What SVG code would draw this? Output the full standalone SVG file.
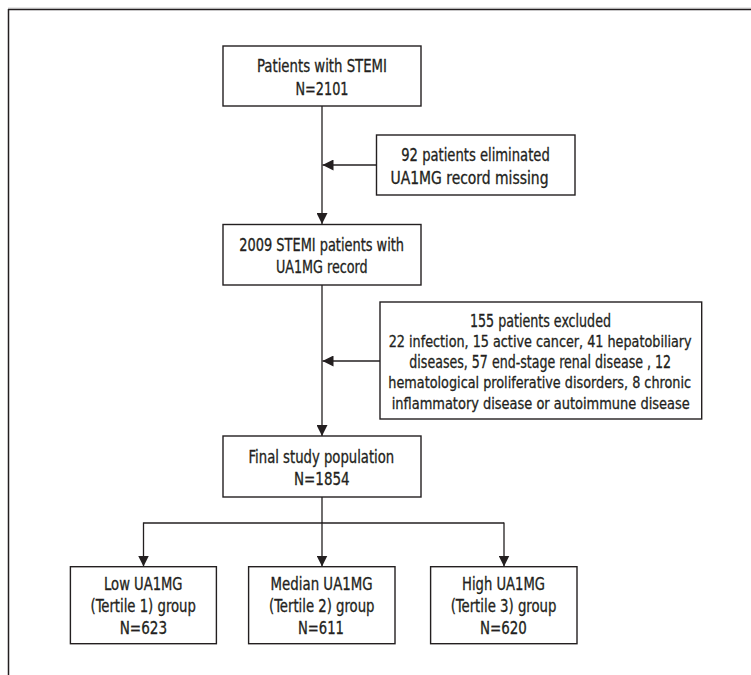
<svg xmlns="http://www.w3.org/2000/svg" width="751" height="675" viewBox="0 0 751 675">
<defs>
<style>
.box{fill:#fff;stroke:#231f20;stroke-width:1.4}
.ln{fill:none;stroke:#231f20;stroke-width:1.3}
text{font-family:"Liberation Sans Narrow","DejaVu Sans Condensed","Liberation Sans",sans-serif;font-size:17px;fill:#231f20;stroke:#231f20;stroke-width:0.3;text-anchor:middle}
.sm{font-size:16px}
</style>
<marker id="ah" viewBox="0 0 11 11" refX="11" refY="5.5" markerWidth="11" markerHeight="11" markerUnits="userSpaceOnUse" orient="auto">
<path d="M0,0 L11,5.5 L0,11 Z" fill="#231f20"/>
</marker>
</defs>
<rect width="751" height="675" fill="#fff"/>
<g id="frame">
<line x1="8" y1="8" x2="751" y2="8" stroke="#d0d0d0" stroke-width="1"/>
<line x1="8" y1="9.5" x2="751" y2="9.5" stroke="#231f20" stroke-width="1.5"/>
<line x1="8.5" y1="9" x2="8.5" y2="675" stroke="#231f20" stroke-width="1.5"/>
</g>
<g id="connectors">
<line class="ln" x1="322" y1="106" x2="322" y2="224" marker-end="url(#ah)"/>
<line class="ln" x1="376.5" y1="165" x2="322.5" y2="165" marker-end="url(#ah)"/>
<line class="ln" x1="322" y1="285" x2="322" y2="436" marker-end="url(#ah)"/>
<line class="ln" x1="380" y1="361" x2="322.5" y2="361" marker-end="url(#ah)"/>
<line class="ln" x1="322" y1="497" x2="322" y2="523"/>
<line class="ln" x1="143.5" y1="523" x2="504" y2="523"/>
<line class="ln" x1="143.5" y1="522.4" x2="143.5" y2="566.5" marker-end="url(#ah)"/>
<line class="ln" x1="322" y1="522.4" x2="322" y2="566.5" marker-end="url(#ah)"/>
<line class="ln" x1="504" y1="522.4" x2="504" y2="566.5" marker-end="url(#ah)"/>
</g>
<g id="n1">
<rect class="box" x="223" y="46" width="198" height="60"/>
<text x="322" y="72" textLength="130" lengthAdjust="spacingAndGlyphs">Patients with STEMI</text>
<text x="322" y="94.5" textLength="53" lengthAdjust="spacingAndGlyphs">N=2101</text>
</g>
<g id="n2">
<rect class="box" x="376.5" y="135" width="198.5" height="60"/>
<text x="475.5" y="161" textLength="148.5" lengthAdjust="spacingAndGlyphs">92 patients eliminated</text>
<text x="469.5" y="183.5" textLength="158" lengthAdjust="spacingAndGlyphs">UA1MG record missing</text>
</g>
<g id="n3">
<rect class="box" x="223" y="224.5" width="198" height="60.5"/>
<text x="321.7" y="250.5" textLength="164.7" lengthAdjust="spacingAndGlyphs">2009 STEMI patients with</text>
<text x="321.8" y="273" textLength="91.7" lengthAdjust="spacingAndGlyphs">UA1MG record</text>
</g>
<g id="n4">
<rect class="box" x="380" y="302" width="321.7" height="117"/>
<text x="540.5" y="326.5" textLength="141" lengthAdjust="spacingAndGlyphs">155 patients excluded</text>
<text class="sm" x="540.2" y="347" textLength="303" lengthAdjust="spacingAndGlyphs">22 infection, 15 active cancer, 41 hepatobiliary</text>
<text x="540.2" y="367.5" textLength="261.7" lengthAdjust="spacingAndGlyphs">diseases, 57 end-stage renal disease , 12</text>
<text class="sm" x="539.7" y="388" textLength="302.7" lengthAdjust="spacingAndGlyphs">hematological proliferative disorders, 8 chronic</text>
<text class="sm" x="540.7" y="408.5" textLength="298" lengthAdjust="spacingAndGlyphs">inflammatory disease or autoimmune disease</text>
</g>
<g id="n5">
<rect class="box" x="223" y="436" width="198" height="61"/>
<text x="321.4" y="462.5" textLength="145.6" lengthAdjust="spacingAndGlyphs">Final study population</text>
<text x="321.8" y="485" textLength="55.6" lengthAdjust="spacingAndGlyphs">N=1854</text>
</g>
<g id="n6">
<rect class="box" x="70.4" y="566.7" width="146" height="77"/>
<text x="143.3" y="589.5" textLength="78.5" lengthAdjust="spacingAndGlyphs">Low UA1MG</text>
<text x="143.2" y="611.5" textLength="105.4" lengthAdjust="spacingAndGlyphs">(Tertile 1) group</text>
<text x="143.4" y="633.5" textLength="47.4" lengthAdjust="spacingAndGlyphs">N=623</text>
</g>
<g id="n7">
<rect class="box" x="248.6" y="566.7" width="146.4" height="77"/>
<text x="321.6" y="589.5" textLength="102" lengthAdjust="spacingAndGlyphs">Median UA1MG</text>
<text x="321.8" y="611.5" textLength="105.4" lengthAdjust="spacingAndGlyphs">(Tertile 2) group</text>
<text x="320.9" y="633.5" textLength="46" lengthAdjust="spacingAndGlyphs">N=611</text>
</g>
<g id="n8">
<rect class="box" x="430.6" y="566.7" width="146.4" height="77"/>
<text x="503.5" y="589.5" textLength="82.9" lengthAdjust="spacingAndGlyphs">High UA1MG</text>
<text x="503.6" y="611.5" textLength="105.8" lengthAdjust="spacingAndGlyphs">(Tertile 3) group</text>
<text x="503.4" y="633.5" textLength="46.9" lengthAdjust="spacingAndGlyphs">N=620</text>
</g>
</svg>
